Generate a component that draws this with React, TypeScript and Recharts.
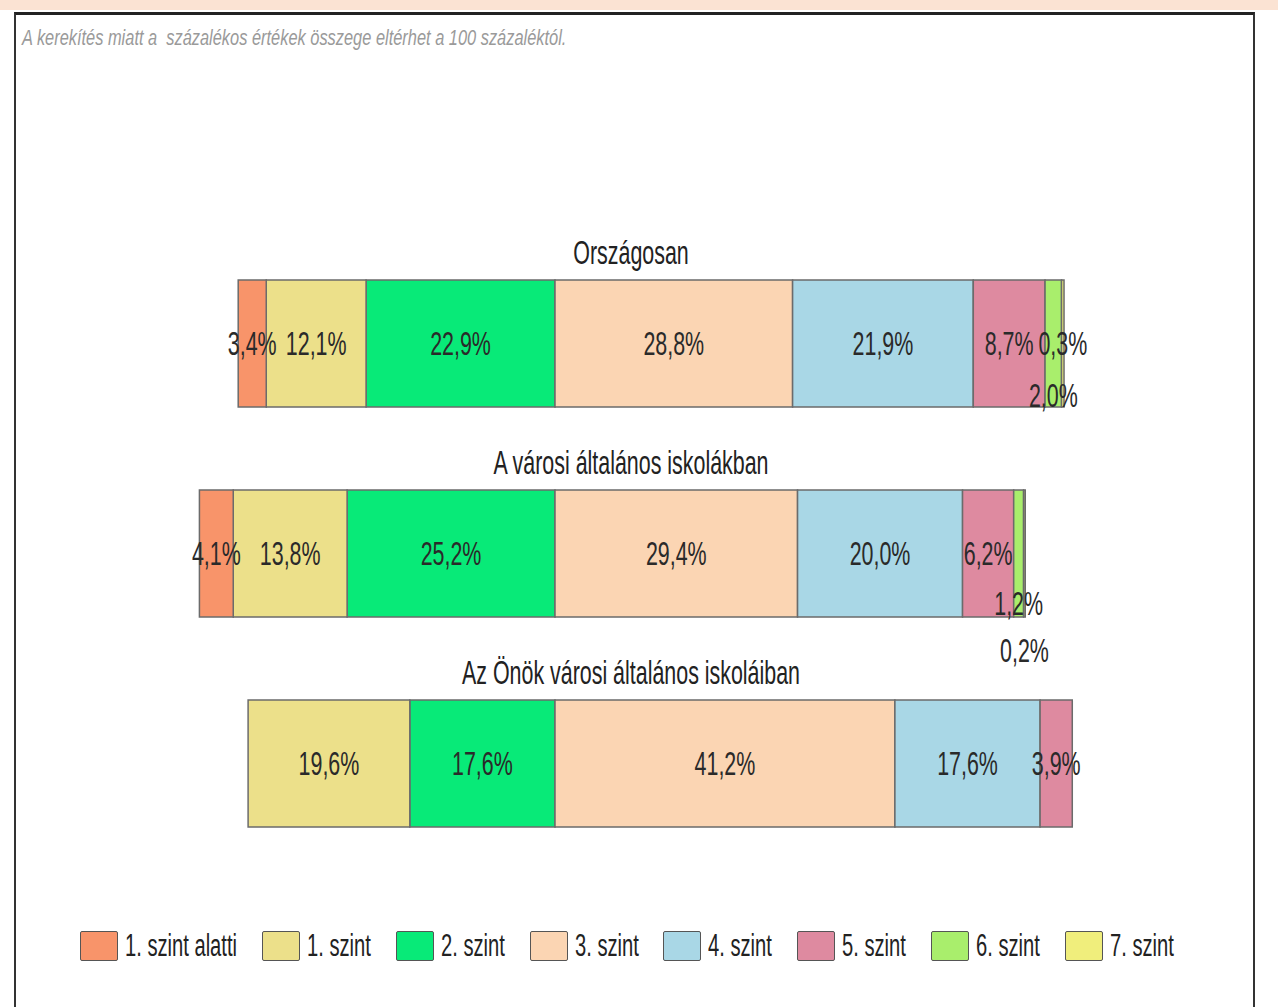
import React from 'react';
import { BarChart, Bar, XAxis, YAxis, LabelList } from 'recharts';

// Categories (one bar each) and levels (stack segments)
const groups = [
  'Országosan',
  'A városi általános iskolákban',
  'Az Önök városi általános iskoláiban',
];
const levels = [
  '1. szint alatti',
  '1. szint',
  '2. szint',
  '3. szint',
  '4. szint',
  '5. szint',
  '6. szint',
  '7. szint',
];

// Percentages per group
const below1 = [3.4, 4.1, 0];
const level1 = [12.1, 13.8, 19.6];
const level2 = [22.9, 25.2, 17.6];
const level3 = [28.8, 29.4, 41.2];
const level4 = [21.9, 20.0, 17.6];
const level5 = [8.7, 6.2, 3.9];
const level6 = [2.0, 1.2, 0];
const level7 = [0.3, 0.2, 0];

const note = 'A kerekítés miatt a  százalékos értékek összege eltérhet a 100 százaléktól.';

const series = [below1, level1, level2, level3, level4, level5, level6, level7];
const colors = [
  '#F8946A',
  '#ECE08A',
  '#08EA78',
  '#FBD5B3',
  '#A9D7E6',
  '#DE8AA0',
  '#A9EE6C',
  '#F0EE7C',
];
// levels drawn to the left of zero (below 3. szint)
const leftCount = 3;
// stacking order: nearest zero first on each side
const drawOrder = [2, 1, 0, 3, 4, 5, 6, 7];

// small labels pushed out of the way (level index -> row -> dy)
const labelShift: Record<number, number[]> = {
  6: [52, 50, 0],
  7: [0, 97, 0],
};

const FONT = '"Liberation Sans", Arial, sans-serif';
const SQUEEZE = 0.63; // the original uses a narrow face

const tableData = groups.map((g, i) => {
  const row: Record<string, any> = { name: g };
  series.forEach((s, k) => {
    const v = s[i];
    row[levels[k]] = v ? (k < leftCount ? -v : v) : null;
  });
  return row;
});

const fmt = (v: number) => v.toFixed(1).replace('.', ',') + '%';

let ctx: CanvasRenderingContext2D | null = null;
const textWidth = (t: string, font: string) => {
  if (!ctx) ctx = document.createElement('canvas').getContext('2d');
  if (!ctx) return t.length * 10;
  ctx.font = font;
  return ctx.measureText(t).width;
};

const NarrowText = ({ x, y, children, size = 34, fill = '#2a2a2a' }: any) => (
  <text
    transform={`translate(${x},${y}) scale(${SQUEEZE},1)`}
    textAnchor="middle"
    dominantBaseline="central"
    fill={fill}
    fontSize={size}
    fontFamily={FONT}
  >
    {children}
  </text>
);

const makeLabel = (k: number) => (props: any) => {
  const { x, y, width, height, index } = props;
  const v = series[k][index];
  if (!v) return null;
  const dy = labelShift[k] ? labelShift[k][index] : 0;
  return (
    <NarrowText x={Number(x) + Number(width) / 2} y={Number(y) + Number(height) / 2 + dy}>
      {fmt(v)}
    </NarrowText>
  );
};

const TITLE_X = 631;

// group title sits above its bar; drawn from the 3. szint segment which every row has
const titleLabel = (props: any) => {
  const { y, index } = props;
  return (
    <NarrowText x={TITLE_X} y={Number(y) - 28} fill="#222">
      {groups[index]}
    </NarrowText>
  );
};

const LEGEND_SIZE = 31;
const LEGEND_SQUEEZE = 0.65;

export default function App() {
  const noteFont = `italic 22px ${FONT}`;
  const noteScale = 545 / textWidth(note, noteFont);
  return (
    <div
      style={{
        position: 'absolute',
        left: 0,
        top: 0,
        width: 1278,
        height: 1007,
        background: '#fff',
        overflow: 'hidden',
      }}
    >
      <div style={{ position: 'absolute', left: 0, top: 0, width: 1278, height: 10, background: '#FBE3D3' }} />
      <div
        style={{
          position: 'absolute',
          left: 14,
          top: 12,
          width: 1237,
          height: 1000,
          borderTop: '3px solid #222',
          borderLeft: '2px solid #333',
          borderRight: '2px solid #333',
        }}
      />
      <div
        style={{
          position: 'absolute',
          left: 22,
          top: 25,
          fontFamily: FONT,
          fontStyle: 'italic',
          fontSize: 22,
          color: '#9a9a9a',
          whiteSpace: 'pre',
          transform: `scaleX(${noteScale})`,
          transformOrigin: 'left top',
        }}
      >
        {note}
      </div>

      <div style={{ position: 'absolute', left: 0, top: 0 }}>
        <BarChart
          width={1278}
          height={1007}
          data={tableData}
          layout="vertical"
          stackOffset="sign"
          barSize={127}
          margin={{ top: 238, right: 145.5, left: 142.5, bottom: 139 }}
        >
          <XAxis type="number" domain={[-50, 70]} hide />
          <YAxis type="category" dataKey="name" hide />
          {drawOrder.map((k) => (
            <Bar
              key={levels[k]}
              dataKey={levels[k]}
              stackId="a"
              fill={colors[k]}
              stroke="#6b6b6b"
              strokeWidth={1.5}
              isAnimationActive={false}
            >
              <LabelList content={makeLabel(k)} />
              {k === 3 && <LabelList content={titleLabel} />}
            </Bar>
          ))}
        </BarChart>
      </div>

      <div
        style={{
          position: 'absolute',
          left: 80,
          top: 928,
          display: 'flex',
          alignItems: 'center',
          fontFamily: FONT,
          fontSize: LEGEND_SIZE,
          color: '#222',
          whiteSpace: 'nowrap',
        }}
      >
        {levels.map((l, k) => {
          const w = textWidth(l, `${LEGEND_SIZE}px ${FONT}`) * LEGEND_SQUEEZE;
          return (
            <div key={l} style={{ display: 'flex', alignItems: 'center', marginRight: 25 }}>
              <div
                style={{
                  width: 36,
                  height: 28,
                  background: colors[k],
                  border: '1.5px solid #555',
                  borderRadius: 2,
                  marginRight: 7,
                }}
              />
              <div style={{ width: w, height: 36, position: 'relative' }}>
                <span
                  style={{
                    position: 'absolute',
                    left: 0,
                    top: 0,
                    lineHeight: '36px',
                    transform: `scaleX(${LEGEND_SQUEEZE})`,
                    transformOrigin: 'left center',
                  }}
                >
                  {l}
                </span>
              </div>
            </div>
          );
        })}
      </div>
    </div>
  );
}
